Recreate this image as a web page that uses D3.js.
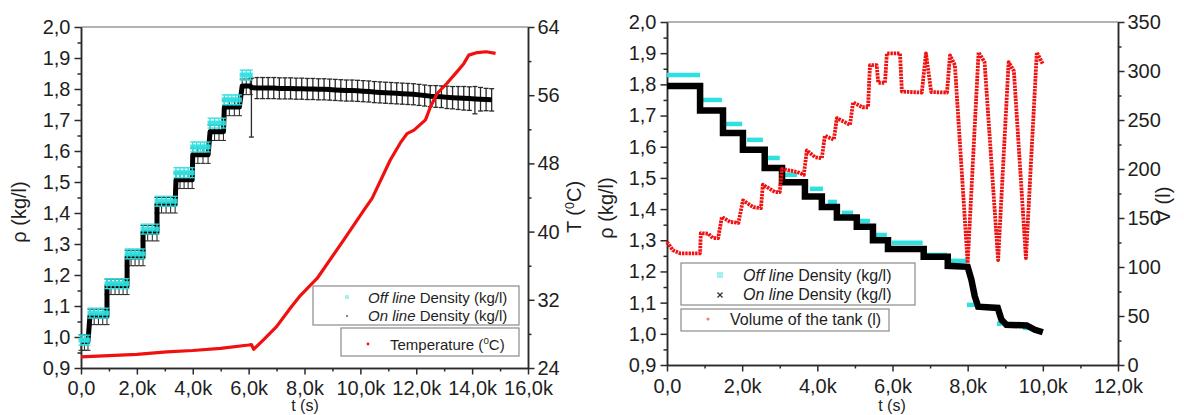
<!DOCTYPE html>
<html>
<head>
<meta charset="utf-8">
<script src="https://cdn.jsdelivr.net/npm/d3@7"></script>
<style>
  body { margin: 0; background: #fff; }
  svg { display: block; }
</style>
</head>
<body>
<svg id="chart" width="1184" height="415"></svg>
<script>
// ---------- Left panel: density steps while adding solid, then heating ----------
const leftStepStart = [0, 320, 930, 1650, 2220, 2720, 3400, 4000, 4620, 5130, 5770];
const leftStepEnd   = [250, 930, 1650, 2220, 2720, 3370, 3980, 4550, 5100, 5670, 6060];
const leftOffline   = [0.990, 1.077, 1.172, 1.268, 1.348, 1.438, 1.530, 1.613, 1.690, 1.765, 1.845];
const leftOnline    = [0.985, 1.068, 1.165, 1.258, 1.338, 1.428, 1.507, 1.588, 1.662, 1.742, 1.810];

// on-line density after the last addition (t in s, rho in kg/l, error bars)
const leftFlatTime = [6100, 6300, 6500, 6700, 6900, 7100, 7300, 7500, 7700, 7900, 8100, 8300, 8500,
  8700, 8900, 9100, 9300, 9500, 9700, 9900, 10100, 10300, 10500, 10700, 10900, 11100, 11300, 11500,
  11700, 11900, 12100, 12300, 12500, 12700, 12900, 13100, 13300, 13500, 13700, 13900, 14100, 14300,
  14500, 14700];
const leftFlatRho = [1.805, 1.803, 1.803, 1.803, 1.803, 1.802, 1.802, 1.802, 1.801, 1.801, 1.800, 1.800, 1.799,
  1.799, 1.798, 1.797, 1.796, 1.795, 1.795, 1.794, 1.793, 1.792, 1.790, 1.789, 1.788, 1.787, 1.786, 1.785,
  1.784, 1.783, 1.781, 1.779, 1.777, 1.776, 1.775, 1.773, 1.772, 1.771, 1.770, 1.769, 1.768, 1.767,
  1.766, 1.765];
const leftFlatErrLow = [0.160, 0.034, 0.034, 0.034, 0.034, 0.034, 0.034, 0.034, 0.034, 0.034, 0.034, 0.034, 0.034,
  0.034, 0.034, 0.034, 0.034, 0.034, 0.034, 0.034, 0.034, 0.034, 0.034, 0.034, 0.034, 0.034, 0.034, 0.034,
  0.034, 0.034, 0.034, 0.034, 0.034, 0.035, 0.035, 0.036, 0.036, 0.037, 0.038, 0.038, 0.048, 0.038,
  0.036, 0.036];
const leftFlatErrHigh = [0.030, 0.034, 0.034, 0.034, 0.034, 0.034, 0.034, 0.034, 0.034, 0.034, 0.034, 0.034, 0.034,
  0.034, 0.034, 0.034, 0.034, 0.034, 0.034, 0.034, 0.034, 0.034, 0.034, 0.034, 0.034, 0.034, 0.034, 0.034,
  0.034, 0.034, 0.034, 0.034, 0.034, 0.035, 0.035, 0.036, 0.036, 0.037, 0.038, 0.038, 0.040, 0.038,
  0.036, 0.036];

// temperature (°C) on the right axis
const tempTime  = [0, 1000, 2000, 3070, 4000, 5000, 6000, 6100, 6180, 6530, 7000, 7490, 7850, 8450,
  9400, 10120, 10420, 11070, 11430, 11670, 11920, 12330, 12510, 12750, 13100, 13470, 13700, 13880,
  14180, 14500, 14840];
const tempValue = [25.3, 25.45, 25.6, 25.9, 26.05, 26.3, 26.7, 26.75, 26.2, 27.3, 28.85, 31.0, 32.5, 34.5,
  39.0, 42.5, 43.9, 48.4, 50.4, 51.5, 51.9, 53.1, 54.65, 56.2, 57.4, 58.8, 59.7, 60.7,
  61.0, 61.1, 60.9];

const leftXTicks = [0, 2000, 4000, 6000, 8000, 10000, 12000, 14000, 16000];
const rhoTicks   = [0.9, 1.0, 1.1, 1.2, 1.3, 1.4, 1.5, 1.6, 1.7, 1.8, 1.9, 2.0];
const tempTicks  = [24, 32, 40, 48, 56, 64];

// ---------- Right panel: dilution of the suspension ----------
const rightOffStart = [0, 830, 1460, 2130, 2690, 3140, 3800, 4280, 4650, 5080, 5400, 5980, 6800, 7530, 7980, 8780, 9470];
const rightOffEnd   = [880, 1460, 2000, 2550, 3000, 3460, 4150, 4520, 4950, 5400, 5850, 6800, 7450, 7980, 8200, 8900, 9650];
const rightOffline  = [1.830, 1.750, 1.673, 1.622, 1.564, 1.510, 1.465, 1.423, 1.388, 1.362, 1.317, 1.292, 1.253, 1.234, 1.093, 1.032, 1.019];

const rightOnTime = [0, 880, 880, 1490, 1490, 2020, 2020, 2600, 2600, 3060, 3060, 3670, 3670, 4120, 4120,
  4520, 4520, 5050, 5050, 5480, 5480, 5880, 5880, 6830, 6830, 7470, 7470, 8000, 8100, 8190, 8280, 8800,
  8900, 9030, 9570, 9790, 10000];
const rightOnRho = [1.795, 1.795, 1.716, 1.716, 1.644, 1.644, 1.590, 1.590, 1.532, 1.532, 1.486, 1.486, 1.440, 1.440, 1.407,
  1.407, 1.373, 1.373, 1.343, 1.343, 1.300, 1.300, 1.272, 1.272, 1.247, 1.247, 1.218, 1.215, 1.173, 1.120, 1.087, 1.083,
  1.045, 1.029, 1.027, 1.013, 1.005];

const volTime = [0, 160, 350, 880, 900, 1100, 1220, 1360, 1460, 1680, 1900, 2020, 2300, 2500, 2550, 2870, 3000,
  3060, 3460, 3640, 3720, 3940, 4120, 4200, 4440, 4520, 4870, 4950, 5200, 5350, 5400, 5580, 5620, 5800, 5850,
  6200, 6250, 6780, 6890, 7030, 7450, 7530, 7660, 8000, 8290, 8450, 8810, 9090, 9230, 9550, 9840, 10000];
const volValue = [125.5, 117, 114, 114, 134.5, 134, 129.5, 129.5, 151, 146, 145, 168, 161, 160, 184, 176.5, 176.5,
  200, 197, 194, 219, 212, 211, 234, 230, 252, 245, 268, 263, 263, 306, 306, 288, 288, 318,
  318, 279, 278, 318, 278.5, 278, 316, 306, 104, 319, 309, 107, 309, 300, 109, 319, 307];

const rightXTicks = [0, 2000, 4000, 6000, 8000, 10000, 12000];
const volTicks    = [0, 50, 100, 150, 200, 250, 300, 350];

// ---------- styling ----------
const FONT = '"Liberation Sans", Arial, Helvetica, sans-serif';
const CYAN = '#2fe0e0';
const RED = '#f01010';
const INK = '#2a2a2a';

const svg = d3.select('#chart');

const commaFmt = v => v.toFixed(1).replace('.', ',');
const kFmt = v => v === 0 ? '0,0' : (v / 1000).toFixed(1).replace('.', ',') + 'k';

function midpoints(ticks) {
  const out = [];
  for (let i = 0; i < ticks.length - 1; i++) out.push((ticks[i] + ticks[i + 1]) / 2);
  return out;
}

function styleAxis(g) {
  g.attr('font-family', FONT).attr('font-size', 20);
  g.select('.domain').attr('stroke', INK).attr('stroke-width', 1.5);
  g.selectAll('.tick line').attr('stroke', INK).attr('stroke-width', 1.5);
  g.selectAll('.tick text').attr('fill', '#1e1e1e');
}

function drawAxes(x, yL, yR, xTicks, yLTicks, yRTicks, yRFmt, padX) {
  const [x0, x1] = x.range();
  const [yB, yT] = yL.range();
  // frame top
  svg.append('line').attr('x1', x0).attr('x2', x1).attr('y1', yT).attr('y2', yT)
    .attr('stroke', '#666').attr('stroke-width', 1);

  const axes = [
    { axis: d3.axisBottom(x), major: xTicks, fmt: kFmt, tr: `translate(0,${yB})`, pad: padX },
    { axis: d3.axisLeft(yL), major: yLTicks, fmt: commaFmt, tr: `translate(${x0},0)`, pad: 4 },
    { axis: d3.axisRight(yR), major: yRTicks, fmt: yRFmt, tr: `translate(${x1},0)`, pad: 3 }
  ];
  axes.forEach(a => {
    svg.append('g').attr('transform', a.tr)
      .call(a.axis.tickValues(midpoints(a.major)).tickSize(3.5).tickSizeOuter(0).tickFormat(''))
      .call(styleAxis);
    svg.append('g').attr('transform', a.tr)
      .call(a.axis.tickValues(a.major).tickSize(6.5).tickSizeOuter(0).tickPadding(a.pad).tickFormat(a.fmt))
      .call(styleAxis);
  });
}

function errorBar(g, x, y, t, lo, hi, color, cap, width) {
  g.append('line').attr('x1', x(t)).attr('x2', x(t)).attr('y1', y(lo)).attr('y2', y(hi))
    .attr('stroke', color).attr('stroke-width', width);
  [lo, hi].forEach(v => g.append('line')
    .attr('x1', x(t) - cap / 2).attr('x2', x(t) + cap / 2).attr('y1', y(v)).attr('y2', y(v))
    .attr('stroke', color).attr('stroke-width', width));
}

function sampleTimes(start, end, spacing) {
  const n = Math.max(1, Math.round((end - start) / spacing));
  return d3.range(n + 1).map(i => start + (end - start) * i / n);
}

// ================= LEFT PANEL =================
const xL = d3.scaleLinear().domain([0, 16000]).range([81, 528]);
const yRhoL = d3.scaleLinear().domain([0.9, 2.0]).range([368, 27]);
const yTempL = d3.scaleLinear().domain([24, 64]).range([368, 27]);

drawAxes(xL, yRhoL, yTempL, leftXTicks, rhoTicks, tempTicks, d => String(d), 6);

const gL = svg.append('g');

// on-line error bars in the step region
leftStepStart.forEach((s, i) => {
  sampleTimes(s, leftStepEnd[i], 160).forEach(t =>
    errorBar(gL, xL, yRhoL, t, leftOnline[i] - 0.028, leftOnline[i] + 0.022, '#333', 5, 1.1));
});
// on-line error bars after the additions
leftFlatTime.forEach((t, i) =>
  errorBar(gL, xL, yRhoL, t, leftFlatRho[i] - leftFlatErrLow[i], leftFlatRho[i] + leftFlatErrHigh[i], '#2a2a2a', 5, 1.3));

// on-line density line
const onPts = [];
leftStepStart.forEach((s, i) => { onPts.push([s, leftOnline[i]]); onPts.push([leftStepEnd[i], leftOnline[i]]); });
leftFlatTime.forEach((t, i) => onPts.push([t, leftFlatRho[i]]));
gL.append('path')
  .attr('d', d3.line().x(d => xL(d[0])).y(d => yRhoL(d[1]))(onPts))
  .attr('fill', 'none').attr('stroke', '#000').attr('stroke-width', 5).attr('stroke-linejoin', 'round');

// off-line density: points with error bars
leftStepStart.forEach((s, i) => {
  sampleTimes(s, leftStepEnd[i], 150).forEach(t => {
    errorBar(gL, xL, yRhoL, t, leftOffline[i] - 0.016, leftOffline[i] + 0.016, CYAN, 5, 1.3);
    gL.append('rect').attr('x', xL(t) - 2.5).attr('y', yRhoL(leftOffline[i]) - 2.5)
      .attr('width', 5).attr('height', 5).attr('fill', CYAN).attr('opacity', 0.9);
  });
});

// temperature
gL.append('path')
  .datum(tempTime.map((t, i) => [t, tempValue[i]]))
  .attr('d', d3.line().x(d => xL(d[0])).y(d => yTempL(d[1])))
  .attr('fill', 'none').attr('stroke', RED).attr('stroke-width', 3.2).attr('stroke-linejoin', 'round');

// legend
function legendText(x, y, size, parts) {
  const t = svg.append('text').attr('x', x).attr('y', y).attr('font-family', FONT)
    .attr('font-size', size).attr('fill', '#1e1e1e');
  parts.forEach(p => {
    const ts = t.append('tspan').text(p.text);
    if (p.italic) ts.attr('font-style', 'italic');
    if (p.sup) ts.attr('dy', -6).attr('font-size', size * 0.65);
    if (p.after) ts.attr('dy', 6);
  });
  return t;
}

svg.append('rect').attr('x', 313).attr('y', 286).attr('width', 206).attr('height', 39)
  .attr('fill', '#fff').attr('stroke', '#8a8a8a').attr('stroke-width', 1.2);
svg.append('rect').attr('x', 341).attr('y', 328).attr('width', 178).attr('height', 28)
  .attr('fill', '#fff').attr('stroke', '#8a8a8a').attr('stroke-width', 1.2);
svg.append('rect').attr('x', 345).attr('y', 295).attr('width', 4).attr('height', 4).attr('fill', '#a8f0ec');
svg.append('circle').attr('cx', 347).attr('cy', 316).attr('r', 1.2).attr('fill', '#888');
svg.append('circle').attr('cx', 368).attr('cy', 344).attr('r', 1.4).attr('fill', RED);
legendText(368, 303, 15, [{ text: 'Off line', italic: true }, { text: ' Density (kg/l)' }]);
legendText(368, 321, 15, [{ text: 'On line', italic: true }, { text: ' Density (kg/l)' }]);
legendText(390, 350, 15, [{ text: 'Temperature (' }, { text: '0', sup: true }, { text: 'C)', after: true }]);

// axis titles
function rotatedTitle(x, y, size, parts) {
  const t = svg.append('text').attr('transform', `translate(${x},${y}) rotate(-90)`)
    .attr('text-anchor', 'middle').attr('font-family', FONT).attr('font-size', size).attr('fill', '#1e1e1e');
  parts.forEach(p => {
    const ts = t.append('tspan').text(p.text);
    if (p.sup) ts.attr('dy', -7).attr('font-size', size * 0.62);
    if (p.after) ts.attr('dy', 7);
  });
}
rotatedTitle(26, 212, 20, [{ text: 'ρ (kg/l)' }]);
rotatedTitle(581, 207, 20, [{ text: 'T (' }, { text: '0', sup: true }, { text: 'C)', after: true }]);
svg.append('text').attr('x', 305).attr('y', 410.5).attr('text-anchor', 'middle')
  .attr('font-family', FONT).attr('font-size', 16).attr('fill', '#1e1e1e').text('t (s)');

// ================= RIGHT PANEL =================
const xR = d3.scaleLinear().domain([0, 12000]).range([667, 1118]);
const yRhoR = d3.scaleLinear().domain([0.9, 2.0]).range([365, 22]);
const yVolR = d3.scaleLinear().domain([0, 350]).range([365, 22]);

drawAxes(xR, yRhoR, yVolR, rightXTicks, rhoTicks, volTicks, d => String(d), 7);

const gR = svg.append('g');

// off-line density dashes
rightOffStart.forEach((s, i) => {
  gR.append('line').attr('x1', xR(s)).attr('x2', xR(rightOffEnd[i]))
    .attr('y1', yRhoR(rightOffline[i])).attr('y2', yRhoR(rightOffline[i]))
    .attr('stroke', CYAN).attr('stroke-width', 4.5);
});

// on-line density
gR.append('path')
  .datum(rightOnTime.map((t, i) => [t, rightOnRho[i]]))
  .attr('d', d3.line().x(d => xR(d[0])).y(d => yRhoR(d[1])))
  .attr('fill', 'none').attr('stroke', '#000').attr('stroke-width', 6.5).attr('stroke-linejoin', 'miter');

// tank volume
gR.append('path')
  .datum(volTime.map((t, i) => [t, volValue[i]]))
  .attr('d', d3.line().x(d => xR(d[0])).y(d => yVolR(d[1])))
  .attr('fill', 'none').attr('stroke', RED).attr('stroke-width', 3.8)
  .attr('stroke-dasharray', '2.4 0.9').attr('stroke-linejoin', 'round');

// legend
svg.append('rect').attr('x', 681).attr('y', 263).attr('width', 234).attr('height', 42)
  .attr('fill', '#fff').attr('stroke', '#8a8a8a').attr('stroke-width', 1.2);
svg.append('rect').attr('x', 681).attr('y', 309).attr('width', 208).attr('height', 22)
  .attr('fill', '#fff').attr('stroke', '#8a8a8a').attr('stroke-width', 1.2);
svg.append('rect').attr('x', 717).attr('y', 272).attr('width', 6).attr('height', 6).attr('fill', '#a8f0ec');
svg.append('path').attr('d', 'M717.5,292.5L722.5,297.5M722.5,292.5L717.5,297.5').attr('stroke', '#333').attr('stroke-width', 1.3);
svg.append('circle').attr('cx', 708).attr('cy', 319).attr('r', 1.6).attr('fill', '#f77');
legendText(743, 281, 16, [{ text: 'Off line', italic: true }, { text: ' Density (kg/l)' }]);
legendText(743, 300, 16, [{ text: 'On line', italic: true }, { text: ' Density (kg/l)' }]);
legendText(730, 325, 16, [{ text: 'Volume of the tank (l)' }]);

rotatedTitle(613, 208, 20, [{ text: 'ρ (kg/l)' }]);
rotatedTitle(1170, 205, 20, [{ text: 'V (l)' }]);
svg.append('text').attr('x', 892).attr('y', 410.5).attr('text-anchor', 'middle')
  .attr('font-family', FONT).attr('font-size', 16).attr('fill', '#1e1e1e').text('t (s)');
</script>
</body>
</html>
